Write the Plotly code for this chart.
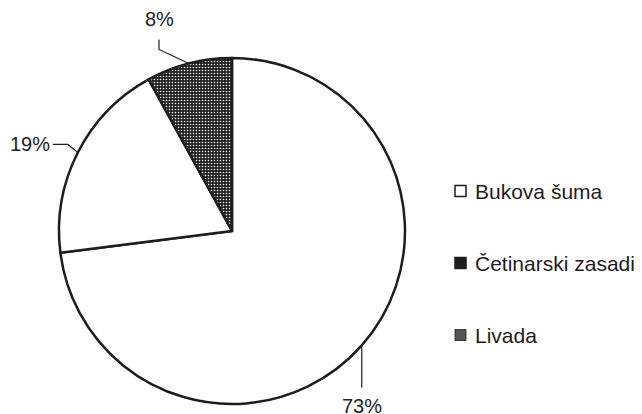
import math
import plotly.graph_objects as go

# ── Data ──────────────────────────────────────────────────────────────────────
labels = ["Bukova šuma", "Četinarski zasadi", "Livada"]
values = [73, 19, 8]
pct_text = ["73%", "19%", "8%"]

# ── Style ─────────────────────────────────────────────────────────────────────
W, H = 642, 414
CX, CY, R = 232, 231, 173          # pie centre / radius in pixels
INK = "#1e1c1d"
FONT = "Liberation Sans, Arial, sans-serif"

slice_fill = ["white", "white", "#222222"]
legend_fill = ["white", INK, "#555555"]
# leader line (elbow, end) and text anchor, offsets in px from slice edge point
label_path = [
    [(0, 0), (0, 42), (0, 61, "center", "middle")],          # 73 %
    [(-10, -8), (-25, -8), (-26, -8, "right", "middle")],    # 19 %
    [(-30, -14), (-30, -24), (-29, -44, "center", "middle")],  # 8 %
]


def px(x, y):
    return x / W, 1 - y / H


fig = go.Figure(go.Pie(
    labels=labels, values=values,
    sort=False, direction="clockwise", rotation=0,
    textinfo="none", hoverinfo="label+percent",
    marker=dict(
        colors=slice_fill,
        line=dict(color=INK, width=2.5),
        pattern=dict(
            shape=["", "", "."],
            fgcolor="white", bgcolor="#222222",
            size=3, solidity=0.22, fillmode="replace",
        ),
    ),
    domain=dict(x=[(CX - R) / W, (CX + R) / W], y=[1 - (CY + R) / H, 1 - (CY - R) / H]),
    showlegend=False,
))

shapes, annotations = [], []
total = sum(values)
cum = 0
for v, t, path in zip(values, pct_text, label_path):
    mid = (cum + v / 2) / total * 2 * math.pi
    cum += v
    ex, ey = CX + R * math.sin(mid), CY - R * math.cos(mid)
    (dx1, dy1), (dx2, dy2), (tx, ty, xa, ya) = path
    p0, p1, p2 = px(ex, ey), px(ex + dx1, ey + dy1), px(ex + dx2, ey + dy2)
    shapes.append(dict(
        type="path", xref="paper", yref="paper",
        path=f"M {p0[0]} {p0[1]} L {p1[0]} {p1[1]} L {p2[0]} {p2[1]}",
        line=dict(color=INK, width=1.2),
    ))
    ax, ay = px(ex + tx, ey + ty)
    annotations.append(dict(
        x=ax, y=ay, xref="paper", yref="paper",
        text=t, showarrow=False, xanchor=xa, yanchor=ya,
        font=dict(size=20, color=INK, family=FONT),
    ))

# legend drawn manually (swatch + label)
for i, (lab, fill) in enumerate(zip(labels, legend_fill)):
    y = 191 + 72 * i
    x0, y0 = px(455, y - 5.5)
    x1, y1 = px(466, y + 5.5)
    shapes.append(dict(
        type="rect", xref="paper", yref="paper",
        x0=x0, y0=y0, x1=x1, y1=y1,
        fillcolor=fill, line=dict(color=INK, width=1.5 if i < 2 else 0.8),
    ))
    tx, ty = px(473, y)
    annotations.append(dict(
        x=tx, y=ty, xref="paper", yref="paper",
        text=lab, showarrow=False, xanchor="left", yanchor="middle",
        font=dict(size=21, color=INK, family=FONT),
    ))

fig.update_layout(
    width=W, height=H,
    margin=dict(t=0, b=0, l=0, r=0),
    paper_bgcolor="white", plot_bgcolor="white",
    shapes=shapes, annotations=annotations,
)

# drop the browser's default 8px body margin so the figure sits at (0, 0)
fig.write_html(
    "out.html",
    config={"displayModeBar": False},
    post_script="document.body.style.margin='0';",
)
